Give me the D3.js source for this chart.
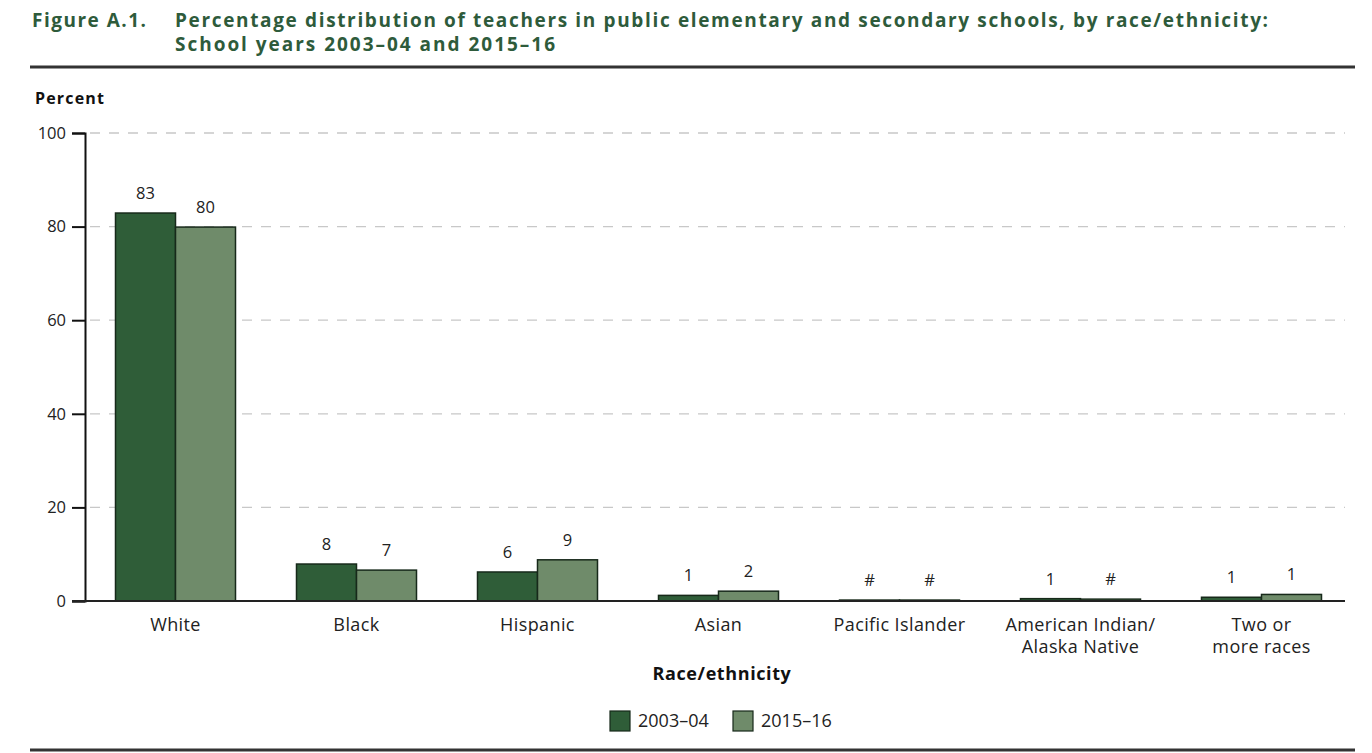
<!DOCTYPE html>
<html>
<head>
<meta charset="utf-8">
<script src="https://cdn.jsdelivr.net/npm/d3@7"></script>
<style>
  body { margin: 0; background: #fff; }
  text { font-family: "Open Sans", "DejaVu Sans", sans-serif; }
</style>
</head>
<body>
<div id="chart"></div>
<script>
// categories and values (percent)
const categories = ["White", "Black", "Hispanic", "Asian", "Pacific Islander", "American Indian/\nAlaska Native", "Two or\nmore races"];
const series = ["2003–04", "2015–16"];
const values2003 = [82.9, 7.9, 6.2, 1.2, 0.2, 0.5, 0.8];
const values2015 = [79.9, 6.6, 8.8, 2.1, 0.2, 0.4, 1.4];
const labels2003 = ["83", "8", "6", "1", "#", "1", "1"];
const labels2015 = ["80", "7", "9", "2", "#", "#", "1"];
const yTicks = [0, 20, 40, 60, 80, 100];

const width = 1372, height = 753;
const colors = ["#2f5d38", "#6f8b6a"];
const green = "#2e5b3b";

const svg = d3.select("#chart").append("svg")
    .attr("width", width)
    .attr("height", height);

// title
const title = svg.append("g").attr("fill", green).attr("font-weight", "bold").attr("font-size", 19);
title.append("text").attr("x", 32).attr("y", 27).attr("textLength", 114).text("Figure A.1.");
title.append("text").attr("x", 175).attr("y", 27).attr("textLength", 1093)
    .text("Percentage distribution of teachers in public elementary and secondary schools, by race/ethnicity:");
title.append("text").attr("x", 175).attr("y", 51).attr("textLength", 380)
    .text("School years 2003–04 and 2015–16");

svg.append("line").attr("x1", 30).attr("x2", 1355).attr("y1", 67).attr("y2", 67)
    .attr("stroke", "#333").attr("stroke-width", 3);
svg.append("line").attr("x1", 30).attr("x2", 1355).attr("y1", 750).attr("y2", 750)
    .attr("stroke", "#333").attr("stroke-width", 3);

// scales
const x = d3.scaleBand().domain(categories).range([85, 85 + 181 * 7]);
const y = d3.scaleLinear().domain([0, 100]).range([601, 133]);
const barW = 60;

// gridlines
svg.append("g")
    .selectAll("line")
    .data(yTicks.filter(d => d > 0))
    .join("line")
    .attr("x1", 90).attr("x2", 1345)
    .attr("y1", d => y(d)).attr("y2", d => y(d))
    .attr("stroke", "#c8c8c8")
    .attr("stroke-width", 1.3)
    .attr("stroke-dasharray", "10,9");

// y axis
const yAxis = svg.append("g")
    .attr("transform", "translate(85,0)")
    .call(d3.axisLeft(y).tickValues(yTicks).tickSize(13).tickPadding(6));
yAxis.select(".domain").attr("stroke", "#111").attr("stroke-width", 2);
yAxis.selectAll(".tick line").attr("stroke", "#111").attr("stroke-width", 2);
yAxis.selectAll(".tick text")
    .attr("font-size", 16.5).attr("fill", "#222")
    .attr("font-family", "\"Open Sans\", sans-serif");

svg.append("text").attr("x", 35).attr("y", 104)
    .attr("font-size", 16).attr("font-weight", "bold").attr("fill", "#111")
    .attr("textLength", 69)
    .text("Percent");

// bars
const all = [values2003, values2015];
const labs = [labels2003, labels2015];
all.forEach((vals, s) => {
  const g = svg.append("g");
  g.selectAll("rect")
      .data(categories)
      .join("rect")
      .attr("x", d => x(d) + x.bandwidth() / 2 - barW + s * barW)
      .attr("y", (d, i) => y(vals[i]))
      .attr("width", barW)
      .attr("height", (d, i) => y(0) - y(vals[i]))
      .attr("fill", colors[s])
      .attr("stroke", "#17291a")
      .attr("stroke-width", 1.5);
  g.selectAll("text")
      .data(categories)
      .join("text")
      .attr("x", d => x(d) + x.bandwidth() / 2 - barW / 2 + s * barW)
      .attr("y", (d, i) => y(vals[i]) - 14)
      .attr("text-anchor", "middle")
      .attr("font-size", 16.5)
      .attr("fill", "#222")
      .text((d, i) => labs[s][i]);
});

// baseline
svg.append("line").attr("x1", 72).attr("x2", 1345).attr("y1", y(0)).attr("y2", y(0))
    .attr("stroke", "#222").attr("stroke-width", 2);

// category labels
svg.append("g")
    .selectAll("text")
    .data(categories)
    .join("text")
    .attr("x", d => x(d) + x.bandwidth() / 2)
    .attr("y", 631)
    .attr("text-anchor", "middle")
    .attr("font-size", 18)
    .attr("letter-spacing", 0.4)
    .attr("fill", "#222")
    .each(function (d) {
      d.split("\n").forEach((line, i) => {
        d3.select(this).append("tspan")
            .attr("x", x(d) + x.bandwidth() / 2)
            .attr("dy", i === 0 ? 0 : 22)
            .text(line);
      });
    });

svg.append("text").attr("x", 722).attr("y", 680)
    .attr("text-anchor", "middle")
    .attr("font-size", 18).attr("font-weight", "bold").attr("fill", "#111")
    .attr("letter-spacing", 0.6)
    .text("Race/ethnicity");

// legend
const legend = svg.append("g");
const legendX = [610, 733];
series.forEach((s, i) => {
  legend.append("rect")
      .attr("x", legendX[i]).attr("y", 711)
      .attr("width", 20).attr("height", 20)
      .attr("fill", colors[i]).attr("stroke", "#17291a").attr("stroke-width", 1.2);
  legend.append("text")
      .attr("x", legendX[i] + 28).attr("y", 727)
      .attr("font-size", 18).attr("fill", "#222")
      .text(s);
});
</script>
</body>
</html>
